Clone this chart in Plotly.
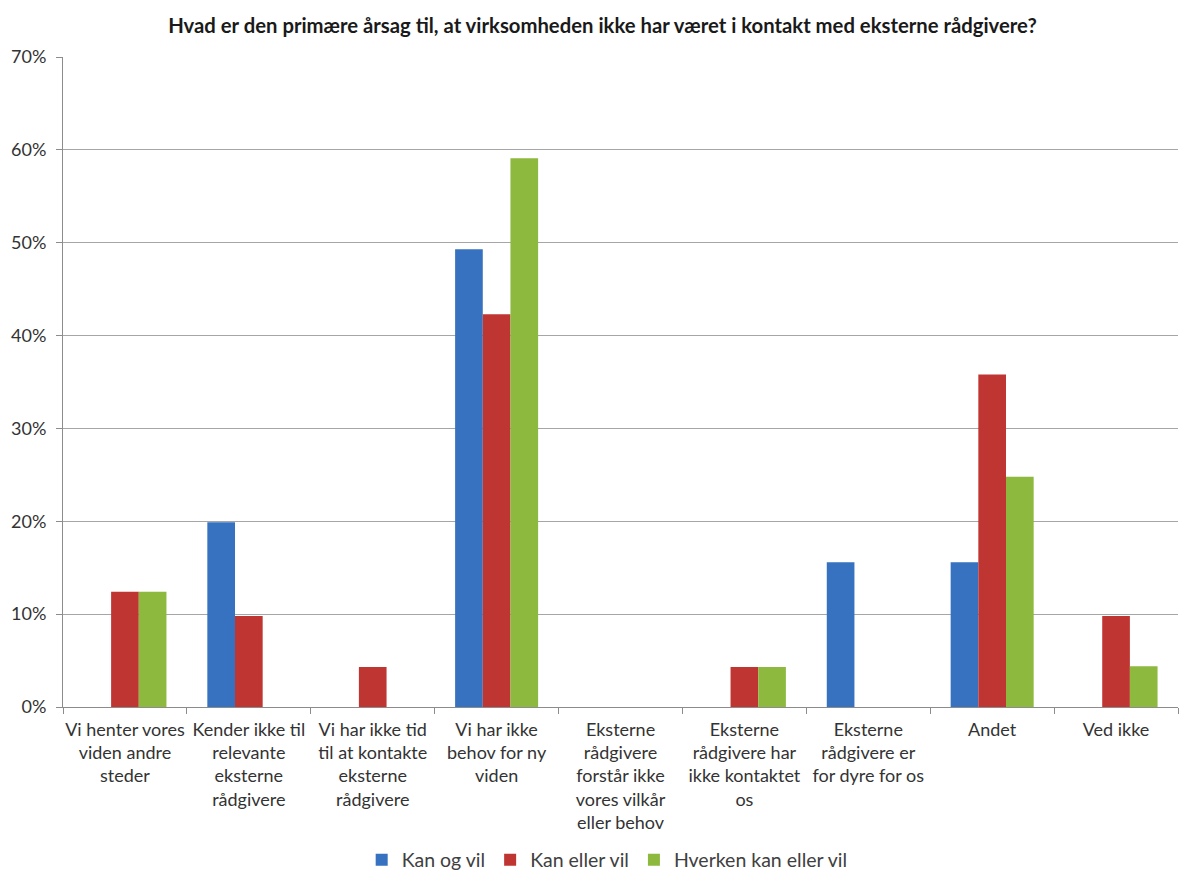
import plotly.graph_objects as go

categories = [
    "Vi henter vores<br>viden andre<br>steder",
    "Kender ikke til<br>relevante<br>eksterne<br>rådgivere",
    "Vi har ikke tid<br>til at kontakte<br>eksterne<br>rådgivere",
    "Vi har ikke<br>behov for ny<br>viden",
    "Eksterne<br>rådgivere<br>forstår ikke<br>vores vilkår<br>eller behov",
    "Eksterne<br>rådgivere har<br>ikke kontaktet<br>os",
    "Eksterne<br>rådgivere er<br>for dyre for os",
    "Andet",
    "Ved ikke",
]

kan_og_vil = [0.0, 19.9, 0.0, 49.3, 0.0, 0.0, 15.6, 15.6, 0.0]
kan_eller_vil = [12.4, 9.8, 4.3, 42.3, 0.0, 4.3, 0.0, 35.8, 9.8]
hverken = [12.4, 0.0, 0.0, 59.1, 0.0, 4.3, 0.0, 24.8, 4.4]

series = [
    ("Kan og vil", kan_og_vil, "#3672BF"),
    ("Kan eller vil", kan_eller_vil, "#BF3532"),
    ("Hverken kan eller vil", hverken, "#8DB93E"),
]

font_family = "Lato, 'Open Sans', sans-serif"

fig = go.Figure()
for name, values, color in series:
    fig.add_trace(go.Bar(
        x=categories,
        y=[v / 100 for v in values],
        name=name,
        marker=dict(color=color, line=dict(width=0)),
    ))

fig.update_layout(
    width=1179,
    height=870,
    margin=dict(l=63, r=1, t=57, b=163, autoexpand=False),
    paper_bgcolor="white",
    plot_bgcolor="white",
    barmode="group",
    bargap=0.33,
    bargroupgap=0,
    font=dict(family=font_family, size=18, color="#404040"),
    title=dict(
        text="<b>Hvad er den primære årsag til, at virksomheden ikke har været i kontakt med eksterne rådgivere?</b>",
        x=0.511, xanchor="center", xref="container",
        y=1 - 26 / 870, yanchor="middle", yref="container",
        font=dict(family=font_family, size=20.3, color="#1a1a1a"),
    ),
    legend=dict(
        orientation="h",
        x=0.515, xanchor="center", xref="container",
        y=10 / 870, yanchor="middle", yref="container",
        font=dict(family=font_family, size=19.5, color="#404040"),
        itemwidth=30,
        traceorder="normal",
    ),
    xaxis=dict(
        automargin=False,
        showline=True, linecolor="#8c8c8c", linewidth=1,
        ticks="outside", ticklen=6, tickcolor="#8c8c8c",
        tickson="boundaries",
        ticklabelstandoff=6,
        showgrid=False,
        tickangle=0,
        tickfont=dict(family=font_family, size=18, color="#333333"),
    ),
    yaxis=dict(
        automargin=False,
        range=[0, 0.7],
        dtick=0.1,
        tickformat=".0%",
        showline=True, linecolor="#8c8c8c", linewidth=1,
        ticks="outside", ticklen=6, tickcolor="#8c8c8c",
        ticklabelstandoff=6,
        showgrid=True, gridcolor="#a6a6a6", gridwidth=1,
        zeroline=False,
        tickfont=dict(family=font_family, size=18, color="#333333"),
    ),
)

fig.write_html("out.html")
